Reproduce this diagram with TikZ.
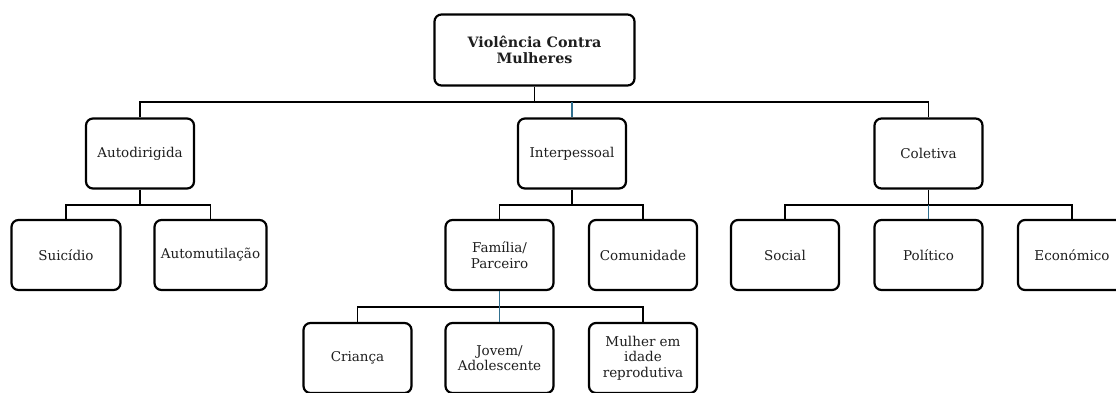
\documentclass[tikz,border=0pt]{standalone}
\usepackage{fontspec}
\setmainfont{DejaVu Serif}
\definecolor{tealline}{RGB}{49,112,143}
\definecolor{txt}{RGB}{30,30,30}
\begin{document}
\begin{tikzpicture}[x=1pt,y=-1pt,
  box/.style={draw=black, line width=2.2pt, rounded corners=7pt, inner sep=1pt,
    minimum width=108pt, minimum height=70pt, align=center, text=txt,
    font=\fontsize{13.5}{15.5}\selectfont},
  conn/.style={draw=black, line width=1.9pt},
  tconn/.style={draw=tealline, line width=1.9pt}]
\useasboundingbox (0,0) rectangle (1116,392);
\node[box, minimum width=200pt, minimum height=71pt, font=\fontsize{14.3}{15.5}\selectfont\bfseries] (root) at (534.5,50) {Violência Contra\\Mulheres};
\node[box] (auto) at (140,153.5) {Autodirigida};
\node[box] (inter) at (572,153.5) {Interpessoal};
\node[box] (colet) at (928.5,153.5) {Coletiva};
\node[box, minimum width=109pt] (sui) at (66,255) {Suicídio};
\node[box, minimum width=112pt, inner sep=0pt] (automut) at (210.5,255) {Automutilação};
\node[box] (fam) at (499.5,255) {Família/\\Parceiro};
\node[box] (comun) at (643,255) {Comunidade};
\node[box] (social) at (785,255) {Social};
\node[box] (polit) at (928.5,255) {Político};
\node[box] (econ) at (1072,255) {Económico};
\node[box] (crian) at (357.5,358) {Criança};
\node[box] (jovem) at (499.5,358) {Jovem/\\Adolescente};
\node[box] (mulher) at (643,358) {Mulher em\\idade\\reprodutiva};
\coordinate (b1) at (0,102);
\coordinate (b2) at (0,205);
\coordinate (b3) at (0,307);
% level 1
\draw[conn] (auto.north) |- (colet.north |- b1) -- (colet.north);
\draw[conn] (root.south) -- (root.south |- b1);
\draw[tconn] (inter.north |- b1) -- (inter.north);
% autodirigida
\draw[conn] (sui.north) |- (automut.north |- b2) -- (automut.north);
\draw[conn] (auto.south) -- (auto.south |- b2);
% interpessoal
\draw[conn] (fam.north) |- (comun.north |- b2) -- (comun.north);
\draw[conn] (inter.south) -- (inter.south |- b2);
% coletiva
\draw[conn] (social.north) |- (econ.north |- b2) -- (econ.north);
\draw[conn] (colet.south) -- (colet.south |- b2);
\draw[tconn] (polit.north |- b2) -- (polit.north);
% familia
\draw[conn] (crian.north) |- (mulher.north |- b3) -- (mulher.north);
\draw[tconn] (fam.south) -- (jovem.north);
\end{tikzpicture}
\end{document}
